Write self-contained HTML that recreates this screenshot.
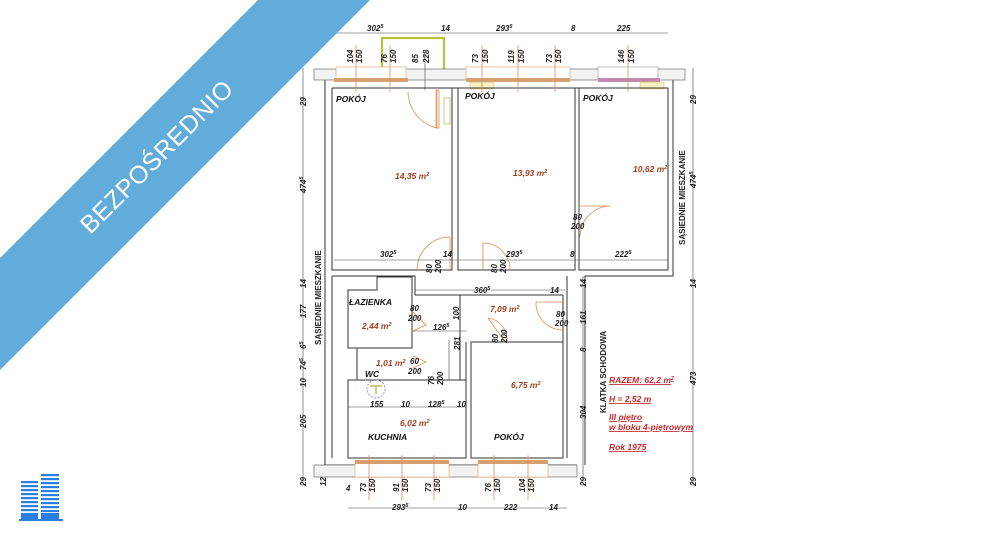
<!DOCTYPE html>
<html><head><meta charset="utf-8"><style>
html,body{margin:0;padding:0;background:#fff;width:1000px;height:538px;overflow:hidden}
svg{display:block}
text{font-family:"Liberation Sans",sans-serif}
.d{font-size:8px;font-style:italic;font-weight:bold;fill:#222}
.r{font-size:8.5px;font-style:italic;font-weight:bold;fill:#111}
.a{font-size:8.5px;font-style:italic;fill:#a0401e;font-weight:bold}
.red{font-size:8.5px;font-style:italic;font-weight:bold;fill:#c4282e;text-decoration:underline}
.w{fill:none;stroke:#333;stroke-width:1}
.dl{stroke:#444;stroke-width:0.6;fill:none}
.o{stroke:#e08a50;stroke-width:0.8;fill:none}
</style></head><body>
<svg width="1000" height="538" viewBox="0 0 1000 538" xmlns="http://www.w3.org/2000/svg">
<rect width="1000" height="538" fill="#fff"/>

<path d="M382 69 V38 H444 V69" fill="none" stroke="#b5c23a" stroke-width="2.2"/>

<rect x="314" y="69" width="371" height="11" fill="#f2f2f2" stroke="#555" stroke-width="0.6"/>
<rect x="336" y="67" width="70" height="13" fill="#fff" stroke="#e0a070" stroke-width="0.6"/>
<rect x="466" y="67" width="104" height="13" fill="#fff" stroke="#e0a070" stroke-width="0.6"/>
<rect x="598" y="67" width="60" height="13" fill="#fff" stroke="#999" stroke-width="0.6"/>
<rect x="334" y="78" width="74" height="4" fill="#d8a070"/>
<rect x="466" y="78" width="104" height="4" fill="#d8a070"/>
<rect x="598" y="78" width="62" height="4" fill="#c08aa8"/>
<rect x="470" y="82" width="24" height="7" fill="#f5f0c0" stroke="#c8b860" stroke-width="0.5"/>
<rect x="640" y="82" width="24" height="7" fill="#f5f0c0" stroke="#c8b860" stroke-width="0.5"/>

<path class="w" d="M325 80 V465 H577"/>
<path class="w" d="M332 88 H668 V270"/>
<path class="w" d="M332 88 V270 H452 V88"/>
<path class="w" d="M458 88 V270 H575 V88"/>
<path class="w" d="M579 88 V270 H668"/>
<path class="w" d="M673 80 V276 H585 V465"/>
<path class="w" d="M332 276 H415 V295 M332 276 V458"/>
<line x1="415" y1="295" x2="563" y2="295" class="w"/>
<path class="w" d="M563 295 V458 H471 V342 H563"/>
<path class="w" d="M567 276 V458"/>
<path class="w" d="M348 290 H377 V277 H412 V348 H348 Z"/>
<path class="w" d="M357 348 V380 H412"/>
<path class="w" d="M348 380 H466 V458 H348 Z"/>
<line x1="460" y1="295" x2="460" y2="380" class="w"/>
<line x1="466" y1="342" x2="466" y2="380" class="w"/>

<rect x="314" y="465" width="263" height="12" fill="#f2f2f2" stroke="#555" stroke-width="0.6"/>
<rect x="355" y="463" width="94" height="14" fill="#fff" stroke="#e0a070" stroke-width="0.6"/>
<rect x="478" y="463" width="70" height="14" fill="#fff" stroke="#e0a070" stroke-width="0.6"/>
<rect x="355" y="460" width="94" height="4" fill="#d8a070"/>
<rect x="478" y="460" width="70" height="4" fill="#d8a070"/>

<g class="o">
<line x1="356" y1="45" x2="356" y2="92"/><line x1="390" y1="45" x2="390" y2="92"/>
<line x1="482" y1="45" x2="482" y2="92"/><line x1="518" y1="45" x2="518" y2="92"/><line x1="555" y1="45" x2="555" y2="92"/>
<line x1="628" y1="45" x2="628" y2="92"/>
<line x1="369" y1="455" x2="369" y2="500"/><line x1="402" y1="455" x2="402" y2="500"/><line x1="434" y1="455" x2="434" y2="500"/>
<line x1="494" y1="455" x2="494" y2="500"/><line x1="528" y1="455" x2="528" y2="500"/>
</g>
<line x1="425" y1="55" x2="425" y2="90" class="dl"/>

<g class="o">
<path d="M437 90 V128 A38 38 0 0 1 408 92"/><rect x="436" y="90" width="3" height="38"/>
<rect x="444" y="98" width="6" height="26" stroke="#c8b860"/>
<path d="M450 237 V270 M450 237 A33 33 0 0 0 417 270"/>
<path d="M483 243 V270 M483 243 A27 27 0 0 1 510 270"/>
<path d="M580 206 H611 A31 31 0 0 0 580 237"/>
<path d="M536 302 H562 M536 302 A27 27 0 0 0 562 330"/>
<path d="M488 318 A22 22 0 0 1 507 342 M488 318 L505 342"/>
<path d="M413 312 L426 325 L413 331"/>
<path d="M413 356 L426 362 L413 368"/>
</g>
<circle cx="376" cy="389" r="9" fill="none" stroke="#6070c0" stroke-width="0.7" stroke-dasharray="2 1.5"/>
<path d="M370 386 H382 M376 386 V394" stroke="#c8b860" stroke-width="1.5"/>

<g class="dl">
<line x1="318" y1="33" x2="668" y2="33"/>
<line x1="303" y1="68" x2="303" y2="486"/>
<line x1="693" y1="68" x2="693" y2="486"/>
<line x1="583" y1="276" x2="583" y2="486"/>
<line x1="334" y1="260" x2="668" y2="260"/>
<line x1="415" y1="290" x2="565" y2="290"/>
<line x1="413" y1="331" x2="467" y2="331"/>
<line x1="449" y1="340" x2="449" y2="380"/>
<line x1="348" y1="407" x2="466" y2="407"/>
<line x1="348" y1="508" x2="567" y2="508"/>
</g>

<text x="315" y="33" class="d" style="fill:#2a6fb0">14</text>
<text x="367" y="31" class="d">302<tspan font-size="5.5" dy="-3">5</tspan></text>
<text x="441" y="31" class="d">14</text>
<text x="496" y="31" class="d">293<tspan font-size="5.5" dy="-3">5</tspan></text>
<text x="571" y="31" class="d">8</text>
<text x="617" y="31" class="d">225</text>

<g class="d" font-size="6.5">
<text transform="translate(353,63) rotate(-90)">104</text><text transform="translate(362,63) rotate(-90)">150</text>
<text transform="translate(387,63) rotate(-90)">76</text><text transform="translate(396,63) rotate(-90)">150</text>
<text transform="translate(418,63) rotate(-90)">85</text><text transform="translate(429,63) rotate(-90)">228</text>
<text transform="translate(478,63) rotate(-90)">73</text><text transform="translate(488,63) rotate(-90)">150</text>
<text transform="translate(514,63) rotate(-90)">119</text><text transform="translate(524,63) rotate(-90)">150</text>
<text transform="translate(552,63) rotate(-90)">73</text><text transform="translate(561,63) rotate(-90)">150</text>
<text transform="translate(624,63) rotate(-90)">146</text><text transform="translate(634,63) rotate(-90)">150</text>
<text transform="translate(366,492) rotate(-90)">73</text><text transform="translate(375,492) rotate(-90)">150</text>
<text transform="translate(399,492) rotate(-90)">91</text><text transform="translate(408,492) rotate(-90)">150</text>
<text transform="translate(431,492) rotate(-90)">73</text><text transform="translate(440,492) rotate(-90)">150</text>
<text transform="translate(491,492) rotate(-90)">76</text><text transform="translate(500,492) rotate(-90)">150</text>
<text transform="translate(525,492) rotate(-90)">104</text><text transform="translate(534,492) rotate(-90)">150</text>
<text transform="translate(432,273) rotate(-90)">80</text><text transform="translate(441,273) rotate(-90)">200</text>
<text transform="translate(497,273) rotate(-90)">80</text><text transform="translate(506,273) rotate(-90)">200</text>
<text transform="translate(498,343) rotate(-90)">80</text><text transform="translate(507,343) rotate(-90)">200</text>
<text transform="translate(434,385) rotate(-90)">76</text><text transform="translate(443,385) rotate(-90)">200</text>
<text transform="translate(459,320) rotate(-90)">100</text>
<text transform="translate(460,350) rotate(-90)">281</text>
</g>
<g class="d" font-size="6.5">
<text x="573" y="220">80</text><text x="571" y="229">200</text>
<text x="556" y="317">80</text><text x="555" y="326">200</text>
<text x="410" y="311">80</text><text x="408" y="321">200</text>
<text x="410" y="364">60</text><text x="408" y="374">200</text>
</g>

<text x="380" y="257" class="d">302<tspan font-size="5.5" dy="-3">5</tspan></text>
<text x="443" y="257" class="d">14</text>
<text x="506" y="257" class="d">293<tspan font-size="5.5" dy="-3">5</tspan></text>
<text x="570" y="257" class="d">8</text>
<text x="615" y="257" class="d">222<tspan font-size="5.5" dy="-3">5</tspan></text>
<text x="474" y="293" class="d">360<tspan font-size="5.5" dy="-3">5</tspan></text>
<text x="550" y="293" class="d">14</text>
<text x="433" y="330" class="d">126<tspan font-size="5.5" dy="-3">5</tspan></text>
<text x="370" y="407" class="d">155</text>
<text x="401" y="407" class="d">10</text>
<text x="428" y="407" class="d">128<tspan font-size="5.5" dy="-3">5</tspan></text>
<text x="457" y="407" class="d">10</text>
<text x="392" y="510" class="d">293<tspan font-size="5.5" dy="-3">5</tspan></text>
<text x="458" y="510" class="d">10</text>
<text x="504" y="510" class="d">222</text>
<text x="549" y="510" class="d">14</text>
<text x="346" y="491" class="d">4</text>

<g class="d">
<text transform="translate(306,106) rotate(-90)">29</text>
<text transform="translate(306,193) rotate(-90)">474<tspan font-size="5.5" dy="-3">5</tspan></text>
<text transform="translate(306,288) rotate(-90)">14</text>
<text transform="translate(306,318) rotate(-90)">177</text>
<text transform="translate(306,349) rotate(-90)">6<tspan font-size="5.5" dy="-3">5</tspan></text>
<text transform="translate(306,370) rotate(-90)">74<tspan font-size="5.5" dy="-3">5</tspan></text>
<text transform="translate(306,387) rotate(-90)">10</text>
<text transform="translate(306,428) rotate(-90)">205</text>
<text transform="translate(306,486) rotate(-90)">29</text>
<text transform="translate(326,486) rotate(-90)">12</text>
<text transform="translate(696,104) rotate(-90)">29</text>
<text transform="translate(696,188) rotate(-90)">474<tspan font-size="5.5" dy="-3">5</tspan></text>
<text transform="translate(696,288) rotate(-90)">14</text>
<text transform="translate(696,385) rotate(-90)">473</text>
<text transform="translate(696,486) rotate(-90)">29</text>
<text transform="translate(586,288) rotate(-90)">14</text>
<text transform="translate(586,324) rotate(-90)">161</text>
<text transform="translate(586,352) rotate(-90)">8</text>
<text transform="translate(586,419) rotate(-90)">304</text>
<text transform="translate(586,486) rotate(-90)">29</text>
<text transform="translate(685,245) rotate(-90)" font-style="normal">SĄSIEDNIE MIESZKANIE</text>
<text transform="translate(321,345) rotate(-90)" font-style="normal">SĄSIEDNIE MIESZKANIE</text>
<text transform="translate(606,413) rotate(-90)" font-style="normal">KLATKA SCHODOWA</text>
</g>

<text x="336" y="102" class="r">POKÓJ</text>
<text x="465" y="99" class="r">POKÓJ</text>
<text x="583" y="101" class="r">POKÓJ</text>
<text x="349" y="305" class="r">ŁAZIENKA</text>
<text x="365" y="377" class="r">WC</text>
<text x="368" y="440" class="r">KUCHNIA</text>
<text x="494" y="440" class="r">POKÓJ</text>

<text x="395" y="179" class="a">14,35 m<tspan font-size="5.5" dy="-3">2</tspan></text>
<text x="513" y="176" class="a">13,93 m<tspan font-size="5.5" dy="-3">2</tspan></text>
<text x="633" y="172" class="a">10,62 m<tspan font-size="5.5" dy="-3">2</tspan></text>
<text x="362" y="329" class="a">2,44 m<tspan font-size="5.5" dy="-3">2</tspan></text>
<text x="490" y="312" class="a">7,09 m<tspan font-size="5.5" dy="-3">2</tspan></text>
<text x="376" y="366" class="a">1,01 m<tspan font-size="5.5" dy="-3">2</tspan></text>
<text x="511" y="388" class="a">6,75 m<tspan font-size="5.5" dy="-3">2</tspan></text>
<text x="400" y="426" class="a">6,02 m<tspan font-size="5.5" dy="-3">2</tspan></text>

<text x="609" y="383" class="red">RAZEM:  62,2 m<tspan font-size="5.5" dy="-3">2</tspan></text>
<text x="609" y="402" class="red">H = 2,52 m</text>
<text x="609" y="420" class="red">III piętro</text>
<text x="609" y="430" class="red">w bloku 4-piętrowym</text>
<text x="609" y="450" class="red">Rok 1975</text>

<polygon points="258,0 370,0 0,370 0,258" fill="#62acdb"/>
<text x="0" y="0" transform="translate(158,158) rotate(-45)" text-anchor="middle" dominant-baseline="middle" font-size="25" fill="#fff" style="font-family:'Liberation Sans',sans-serif;letter-spacing:0.5px">BEZPOŚREDNIO</text>

<g fill="#2a7de1">
<rect x="19" y="519" width="44" height="2"/>
<rect x="21" y="481" width="17" height="2.2"/><rect x="21" y="485" width="17" height="2.2"/><rect x="21" y="489" width="17" height="2.2"/><rect x="21" y="493" width="17" height="2.2"/><rect x="21" y="497" width="17" height="2.2"/><rect x="21" y="501" width="17" height="2.2"/><rect x="21" y="505" width="17" height="2.2"/><rect x="21" y="509" width="17" height="2.2"/>
<rect x="41" y="474" width="18" height="2.2"/><rect x="41" y="478" width="18" height="2.2"/><rect x="41" y="482" width="18" height="2.2"/><rect x="41" y="486" width="18" height="2.2"/><rect x="41" y="490" width="18" height="2.2"/><rect x="41" y="494" width="18" height="2.2"/><rect x="41" y="498" width="18" height="2.2"/><rect x="41" y="502" width="18" height="2.2"/><rect x="41" y="506" width="18" height="2.2"/><rect x="41" y="510" width="18" height="2.2"/>
<rect x="21" y="513" width="17" height="6"/><rect x="41" y="513" width="18" height="6"/>
</g>
</svg>
</body></html>
